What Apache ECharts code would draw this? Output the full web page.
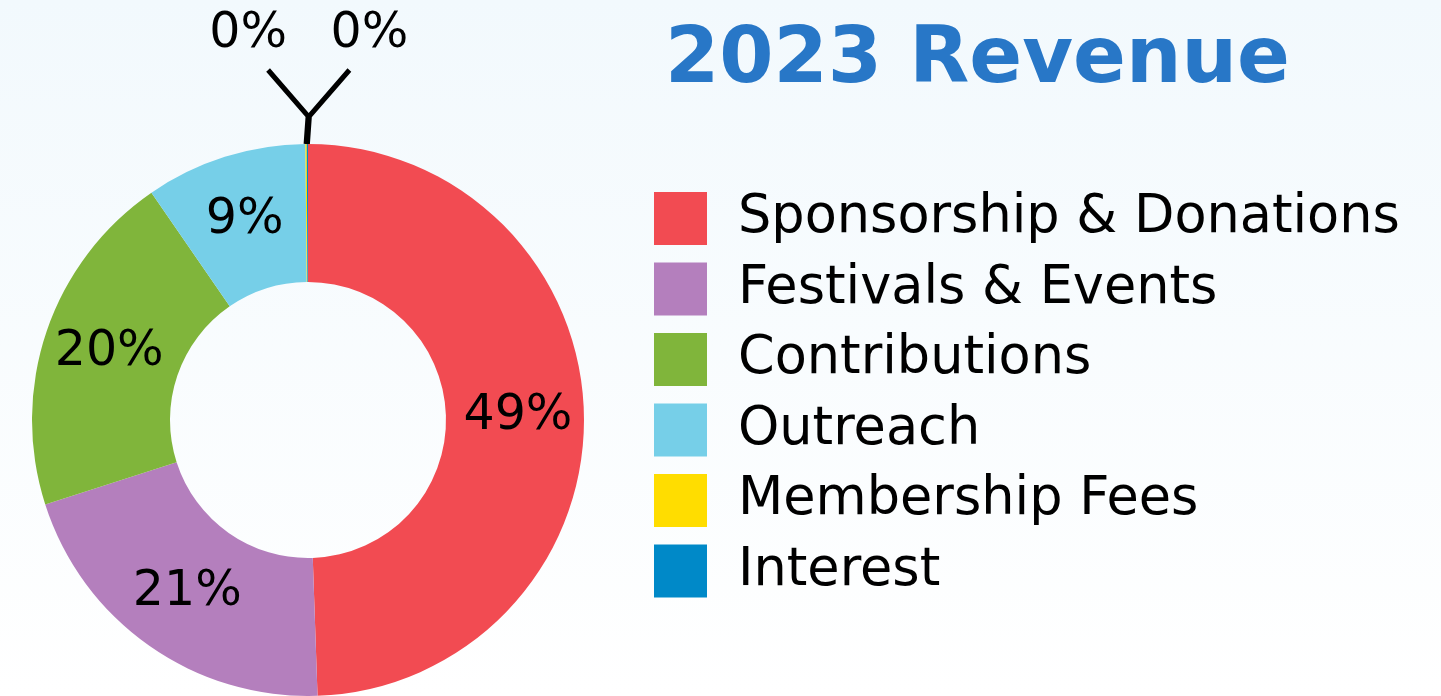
<!DOCTYPE html>
<html>
<head>
<meta charset="utf-8">
<style>
  html, body { margin: 0; padding: 0; width: 100%; height: 100%; }
  #chart { width: 1441px; height: 696px; }
</style>
<script src="https://cdn.jsdelivr.net/npm/echarts@6/dist/echarts.min.js"></script>
</head>
<body>
<div id="chart"></div>
<script>
const categories = ['Sponsorship & Donations', 'Festivals & Events', 'Contributions', 'Outreach', 'Membership Fees', 'Interest'];
const values = [49.45, 20.6, 20.35, 9.45, 0.08, 0.07];
const colors = ['#f24b52', '#b47fbd', '#80b53b', '#76cfe8', '#ffdd00', '#0089c8'];
const titleText = '2023 Revenue';

const FONT = '"DejaVu Sans", sans-serif';

const chart = echarts.init(document.getElementById('chart'));

const data = categories.map((name, i) => {
  const tiny = values[i] < 1;
  return {
    name: name,
    value: values[i],
    itemStyle: { color: colors[i] },
    label: tiny ? { position: 'outside' } : { position: 'inside' },
    labelLine: { show: tiny }
  };
});

chart.setOption({
  backgroundColor: {
    type: 'linear', x: 0, y: 0, x2: 0, y2: 1,
    colorStops: [
      { offset: 0, color: '#f2f9fd' },
      { offset: 1, color: '#ffffff' }
    ]
  },
  animation: false,
  title: {
    text: titleText,
    left: 660,
    top: 18,
    textStyle: {
      fontFamily: '"DejaVu Sans", sans-serif',
      fontWeight: 'bold',
      fontSize: 78,
      color: '#2877c7'
    }
  },
  legend: {
    orient: 'vertical',
    left: 654,
    top: 192,
    padding: 0,
    icon: 'rect',
    itemWidth: 53,
    itemHeight: 53,
    itemGap: 17.5,
    selectedMode: false,
    data: categories,
    textStyle: {
      fontFamily: FONT,
      fontSize: 52.5,
      color: '#000',
      padding: [0, 0, 0, 26]
    }
  },
  series: [{
    type: 'pie',
    center: [308, 420],
    radius: [138, 276],
    startAngle: 90,
    clockwise: true,
    avoidLabelOverlap: false,
    emphasis: { disabled: true },
    label: {
      show: true,
      fontFamily: FONT,
      fontSize: 49,
      color: '#000',
      formatter: (p) => Math.round(p.percent) + '%'
    },
    labelLine: {
      length: 28,
      length2: 20,
      lineStyle: { color: '#000', width: 5 }
    },
    labelLayout: function (params) {
      const idx = params.dataIndex;
      if (values[idx] >= 1 || !params.labelLinePoints) return {};
      const side = idx === 4 ? -1 : 1;
      const p0 = params.labelLinePoints[0];
      const p1 = [p0[0] + 2, p0[1] - 28];
      const p2 = [p1[0] + side * 40, p1[1] - 46];
      return {
        x: p2[0] + side * 20,
        y: p2[1] - 36,
        align: 'center',
        verticalAlign: 'middle',
        labelLinePoints: [p0, p1, p2]
      };
    },
    data: data
  }]
});
</script>
</body>
</html>
